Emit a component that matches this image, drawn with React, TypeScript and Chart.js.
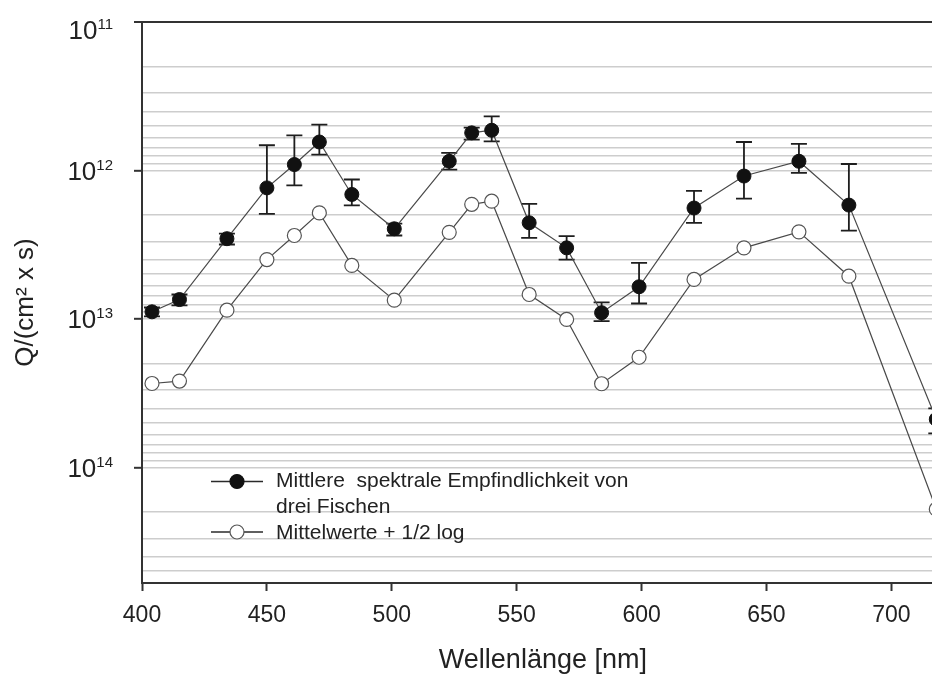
import React, { useEffect, useRef } from "react";
import { Chart, registerables } from "chart.js";

Chart.register(...registerables);

// Wavelengths of the test lights (nm)
const wavelengths = [404, 415, 434, 450, 461, 471, 484, 501, 523, 532, 540, 555, 570, 584, 599, 621, 641, 663, 683, 718];

// Mean threshold quanta Q of three fish, photons/(cm² x s)
const meanQ = [
  8.95e12, 7.4e12, 2.88e12, 1.31e12, 9.12e11, 6.43e11, 1.45e12, 2.47e12, 8.67e11, 5.58e11,
  5.36e11, 2.25e12, 3.32e12, 9.08e12, 6.07e12, 1.79e12, 1.09e12, 8.67e11, 1.71e12, 4.74e13,
];

// Error bar ends (lower and upper Q)
const errLow = [
  8.37e12, 6.84e12, 2.66e12, 6.76e11, 5.8e11, 4.91e11, 1.15e12, 2.28e12, 7.62e11, 5.14e11,
  4.32e11, 1.68e12, 2.77e12, 7.74e12, 4.19e12, 1.37e12, 6.43e11, 6.62e11, 9.04e11, 4.0e13,
];
const errHigh = [
  9.62e12, 8.11e12, 3.15e12, 1.96e12, 1.26e12, 7.82e11, 1.72e12, 2.74e12, 9.86e11, 6.19e11,
  6.37e11, 2.84e12, 3.98e12, 1.035e13, 7.87e12, 2.25e12, 1.545e12, 1.038e12, 2.54e12, 5.89e13,
];

// Mean values shifted by half a log unit
const shiftedQ = [
  2.72e13, 2.62e13, 8.73e12, 3.98e12, 2.74e12, 1.93e12, 4.36e12, 7.47e12, 2.61e12, 1.69e12,
  1.61e12, 6.84e12, 1.007e13, 2.73e13, 1.81e13, 5.42e12, 3.32e12, 2.59e12, 5.15e12, 1.91e14,
];

const seriesLabels = ["Mittlere  spektrale Empfindlichkeit von", "drei Fischen", "Mittelwerte + 1/2 log"];

const xTickValues = [400, 450, 500, 550, 600, 650, 700];
const xMin = 400;
const xMax = 721;

// Decade tick labels: base "10" with the exponent set as a superscript
const yDecades = [11, 12, 13, 14];
const yTickBase = "10";
const yTickExponents = ["11", "12", "13", "14"];
const yMinorSteps = [1, 2, 3, 4, 5, 6, 7, 8, 9];
const yMin = 1e11;
const yMax = 6e14;

const FONT = '"Liberation Sans", Arial, Helvetica, sans-serif';
const INK = "#222222";

const gridValues = yDecades
  .flatMap((e) => yMinorSteps.map((s) => s * Math.pow(10, e)))
  .filter((v) => v < yMax);

const isDecade = (v: number) => {
  const e = Math.log10(v);
  return Math.abs(e - Math.round(e)) < 1e-9;
};

const errorBars = {
  id: "errorBars",
  beforeDatasetsDraw(chart: any) {
    const { ctx, scales } = chart;
    const x = scales.x;
    const y = scales.y;
    ctx.save();
    ctx.strokeStyle = "#1e1e1e";
    ctx.lineWidth = 1.8;
    wavelengths.forEach((w, i) => {
      const px = x.getPixelForValue(w);
      const y1 = y.getPixelForValue(errLow[i]);
      const y2 = y.getPixelForValue(errHigh[i]);
      ctx.beginPath();
      ctx.moveTo(px, y1);
      ctx.lineTo(px, y2);
      ctx.moveTo(px - 8, y1);
      ctx.lineTo(px + 8, y1);
      ctx.moveTo(px - 8, y2);
      ctx.lineTo(px + 8, y2);
      ctx.stroke();
    });
    ctx.restore();
  },
};

// Power-of-ten labels on the y axis, right-aligned next to the tick marks
const decadeLabels = {
  id: "decadeLabels",
  afterDraw(chart: any) {
    const { ctx, chartArea } = chart;
    const y = chart.scales.y;
    const rightEdge = y.right - 29;
    ctx.save();
    ctx.fillStyle = INK;
    ctx.textBaseline = "alphabetic";
    ctx.textAlign = "left";
    yDecades.forEach((e, i) => {
      let py = y.getPixelForValue(Math.pow(10, e));
      py = Math.max(py, chartArea.top + 7.5);
      ctx.font = `15px ${FONT}`;
      const expW = ctx.measureText(yTickExponents[i]).width;
      ctx.font = `26px ${FONT}`;
      const baseW = ctx.measureText(yTickBase).width;
      const x0 = rightEdge - expW - baseW;
      ctx.fillText(yTickBase, x0, py + 9.5);
      ctx.font = `15px ${FONT}`;
      ctx.fillText(yTickExponents[i], x0 + baseW, py - 0.5);
    });
    ctx.restore();
  },
};

const legendBox = {
  id: "legendBox",
  afterDraw(chart: any) {
    const { ctx } = chart;
    const lineX0 = 211;
    const lineX1 = 263;
    const markX = 237;
    const textX = 276;
    const rows = [
      { y: 481.5, filled: true },
      { y: 532, filled: false },
    ];
    ctx.save();
    rows.forEach((r) => {
      ctx.strokeStyle = "#2a2a2a";
      ctx.lineWidth = 1.6;
      ctx.beginPath();
      ctx.moveTo(lineX0, r.y);
      ctx.lineTo(lineX1, r.y);
      ctx.stroke();
      ctx.beginPath();
      ctx.arc(markX, r.y, 7, 0, Math.PI * 2);
      ctx.fillStyle = r.filled ? "#111111" : "#ffffff";
      ctx.fill();
      ctx.lineWidth = 1.2;
      ctx.strokeStyle = r.filled ? "#111111" : "#555555";
      ctx.stroke();
    });
    ctx.fillStyle = INK;
    ctx.font = `21px ${FONT}`;
    ctx.textAlign = "left";
    ctx.textBaseline = "alphabetic";
    ctx.fillText(seriesLabels[0], textX, 487);
    ctx.fillText(seriesLabels[1], textX, 513);
    ctx.fillText(seriesLabels[2], textX, 539);
    ctx.restore();
  },
};

export default function App() {
  const canvasRef = useRef<HTMLCanvasElement | null>(null);

  useEffect(() => {
    if (!canvasRef.current) return;
    const chart = new Chart(canvasRef.current, {
      type: "line",
      data: {
        datasets: [
          {
            label: seriesLabels[0] + " " + seriesLabels[1],
            data: wavelengths.map((w, i) => ({ x: w, y: meanQ[i] })),
            borderColor: "#4a4a4a",
            borderWidth: 1.2,
            pointRadius: 7,
            pointBackgroundColor: "#111111",
            pointBorderColor: "#111111",
            pointBorderWidth: 1,
            tension: 0,
          },
          {
            label: seriesLabels[2],
            data: wavelengths.map((w, i) => ({ x: w, y: shiftedQ[i] })),
            borderColor: "#4a4a4a",
            borderWidth: 1.2,
            pointRadius: 7,
            pointBackgroundColor: "#ffffff",
            pointBorderColor: "#555555",
            pointBorderWidth: 1.2,
            tension: 0,
          },
        ],
      },
      options: {
        responsive: false,
        animation: false,
        devicePixelRatio: 1,
        layout: { padding: { top: 22, left: 0, right: 0, bottom: 0 } },
        plugins: {
          legend: { display: false },
          tooltip: { enabled: false },
        },
        scales: {
          x: {
            type: "linear",
            min: xMin,
            max: xMax,
            afterBuildTicks: (scale: any) => {
              scale.ticks = xTickValues.map((v) => ({ value: v }));
            },
            afterFit: (scale: any) => {
              scale.height = 95;
              scale.paddingLeft = 0;
              scale.paddingRight = 0;
            },
            ticks: {
              autoSkip: false,
              maxRotation: 0,
              padding: 11,
              color: INK,
              font: { family: FONT, size: 23 },
              callback: (v: any) => String(v),
            },
            grid: {
              display: true,
              drawOnChartArea: false,
              drawTicks: true,
              tickLength: 8,
              tickColor: "#333333",
              tickWidth: 2,
            },
            border: { display: true, color: "#333333", width: 2 },
            title: {
              display: true,
              text: "Wellenlänge [nm]",
              color: INK,
              font: { family: FONT, size: 27 },
              padding: { top: 0, bottom: 1 },
            },
          },
          y: {
            type: "logarithmic",
            reverse: true,
            min: yMin,
            max: yMax,
            afterBuildTicks: (scale: any) => {
              scale.ticks = gridValues.map((v) => ({ value: v, major: isDecade(v) }));
            },
            afterFit: (scale: any) => {
              scale.width = 142;
              scale.paddingTop = 0;
              scale.paddingBottom = 0;
            },
            ticks: {
              display: false,
              autoSkip: false,
            },
            grid: {
              display: true,
              drawOnChartArea: true,
              drawTicks: true,
              tickLength: 8,
              color: (c: any) => (c.tick && c.tick.value === yMin ? "#333333" : "#cdcdcd"),
              lineWidth: (c: any) => (c.tick && c.tick.value === yMin ? 2 : 1.6),
              tickColor: (c: any) => (c.tick && isDecade(c.tick.value) ? "#333333" : "rgba(0,0,0,0)"),
              tickWidth: 2,
            },
            border: { display: true, color: "#333333", width: 2 },
            title: {
              display: true,
              text: "Q/(cm² x s)",
              color: INK,
              font: { family: FONT, size: 26 },
              padding: { top: 10, bottom: 0 },
            },
          },
        },
      },
      plugins: [errorBars, decadeLabels, legendBox],
    } as any);
    return () => chart.destroy();
  }, []);

  return (
    <div
      style={{
        position: "fixed",
        left: 0,
        top: 0,
        width: 932,
        height: 678,
        overflow: "hidden",
        background: "#ffffff",
      }}
    >
      <canvas ref={canvasRef} width={952} height={678} style={{ display: "block" }} />
    </div>
  );
}
